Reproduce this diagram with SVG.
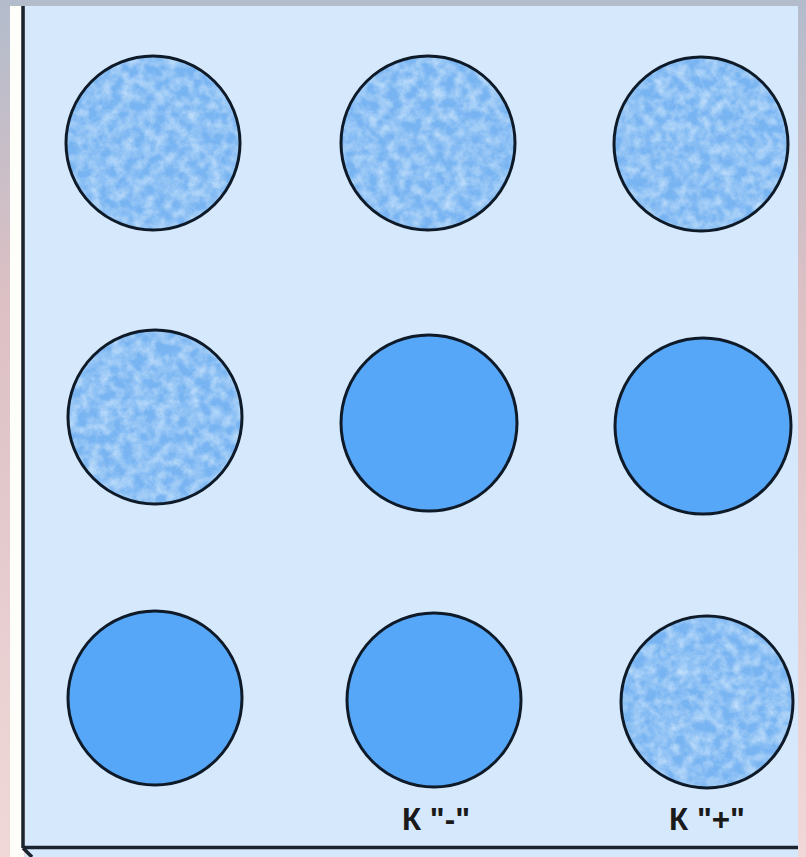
<svg xmlns="http://www.w3.org/2000/svg" width="806" height="857" viewBox="0 0 806 857">
<defs>
<linearGradient id="bg" x1="0" y1="0" x2="0" y2="1">
<stop offset="0" stop-color="#b3bccc"/>
<stop offset="0.35" stop-color="#dcc0c4"/>
<stop offset="1" stop-color="#f0d8d8"/>
</linearGradient>
<filter id="mottle" x="0" y="0" width="1" height="1" color-interpolation-filters="sRGB">
<feTurbulence type="fractalNoise" baseFrequency="0.09" numOctaves="5" seed="7" result="n"/>
<feColorMatrix in="n" type="matrix" values="0 0 0 0 0  0 0 0 0 0  0 0 0 0 0  1.3 0 0 0 -0.4" result="a"/>
<feFlood flood-color="#d6ebfd"/>
<feComposite in2="a" operator="in" result="w"/>
<feMerge><feMergeNode in="SourceGraphic"/><feMergeNode in="w"/></feMerge>
<feComposite in2="SourceGraphic" operator="in"/>
</filter>
<style>
.tex{fill:#78b4f2;filter:url(#mottle)}
.sol{fill:#57a7f9}
.ring{fill:none;stroke:#0e1a28;stroke-width:3}
.lbl{font-family:"Liberation Sans",Arial,sans-serif;font-weight:bold;font-size:31px;fill:#1a1a1a}
</style>
</defs>
<rect width="806" height="857" fill="url(#bg)"/>
<rect x="10" y="6" width="14" height="851" fill="#fdfdfa"/>
<rect x="25" y="6" width="773" height="851" fill="#d5e8fc"/>
<g id="frame" fill="none" stroke="#1a232e" stroke-width="3.5">
<line x1="23" y1="6" x2="23" y2="848"/>
<line x1="23" y1="847.5" x2="798" y2="847.5"/>
<line x1="23" y1="848" x2="32" y2="857"/>
</g>
<g id="c1"><circle class="tex" cx="153" cy="143" r="87"/><circle class="ring" cx="153" cy="143" r="87"/></g>
<g id="c2"><circle class="tex" cx="428" cy="143" r="87"/><circle class="ring" cx="428" cy="143" r="87"/></g>
<g id="c3"><circle class="tex" cx="701" cy="144" r="87"/><circle class="ring" cx="701" cy="144" r="87"/></g>
<g id="c4"><circle class="tex" cx="155" cy="417" r="87"/><circle class="ring" cx="155" cy="417" r="87"/></g>
<g id="c5"><circle class="sol" cx="429" cy="423" r="88"/><circle class="ring" cx="429" cy="423" r="88"/></g>
<g id="c6"><circle class="sol" cx="703" cy="426" r="88"/><circle class="ring" cx="703" cy="426" r="88"/></g>
<g id="c7"><circle class="sol" cx="155" cy="698" r="87"/><circle class="ring" cx="155" cy="698" r="87"/></g>
<g id="c8"><circle class="sol" cx="434" cy="700" r="87"/><circle class="ring" cx="434" cy="700" r="87"/></g>
<g id="c9"><circle class="tex" cx="707" cy="702" r="86"/><circle class="ring" cx="707" cy="702" r="86"/></g>
<g id="labels">
<text class="lbl" x="402" y="830" textLength="68" lengthAdjust="spacingAndGlyphs">К "-"</text>
<text class="lbl" x="669" y="830" textLength="76" lengthAdjust="spacingAndGlyphs">К "+"</text>
</g>
</svg>
